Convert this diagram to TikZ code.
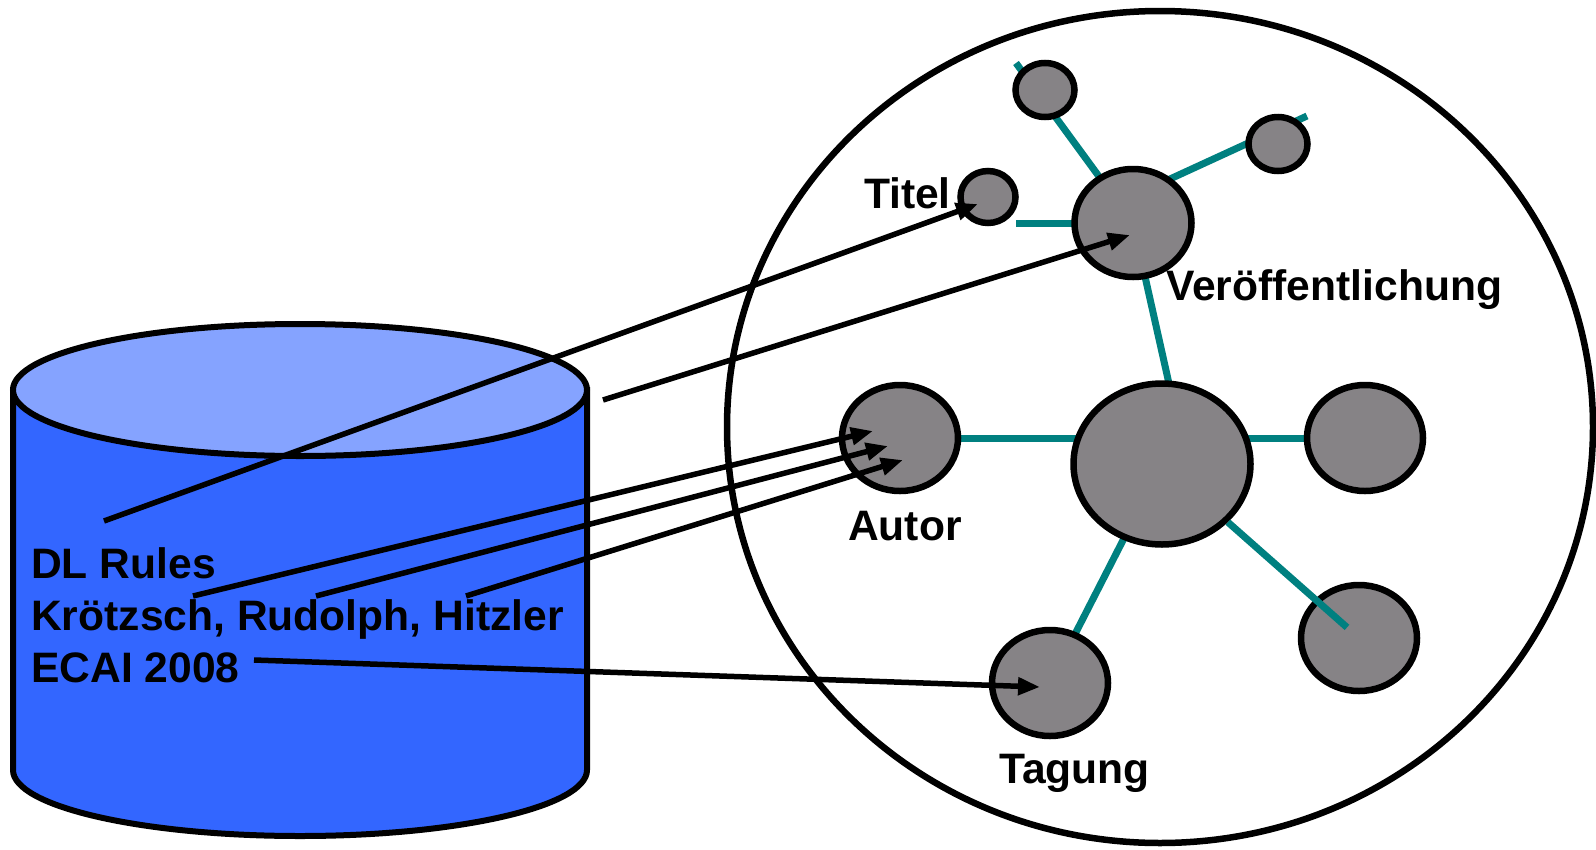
\documentclass[tikz,border=0pt]{standalone}
\usepackage{fontspec}
\setmainfont{Liberation Sans}
\usetikzlibrary{shapes.geometric,arrows.meta,calc,backgrounds}

\definecolor{dbblue}{RGB}{51,102,255}
\definecolor{dbtop}{RGB}{133,163,255}
\definecolor{nodegray}{RGB}{134,131,134}
\definecolor{linkteal}{RGB}{0,128,128}

\tikzset{
  concept/.style={ellipse, draw, line width=6.5pt, fill=nodegray, inner sep=0pt},
  medium/.style={concept, minimum width=116pt, minimum height=106pt},
  link/.style={linkteal, line width=7pt},
  ref/.style={line width=5.5pt, -{Triangle[length=22pt,width=17pt]}},
  lbl/.style={font=\fontsize{42.6}{52}\selectfont\bfseries, inner sep=0pt, anchor=base west},
}

\begin{document}
\begin{tikzpicture}[x=1pt, y=-1pt]
\useasboundingbox (0,0) rectangle (1596,849);

% database
\filldraw[fill=dbblue, line width=6pt] (13,390) -- (13,770)
  arc[start angle=180, end angle=0, x radius=287, y radius=66] -- (587,390) -- cycle;
\filldraw[fill=dbtop, line width=6pt] (300,390) ellipse[x radius=287, y radius=66];

% ontology
\draw[line width=6.5pt] (1160,427) ellipse[x radius=433, y radius=416];

\node[concept, minimum width=55pt, minimum height=52pt] (title) at (988,197) {};
\node[concept, minimum width=59pt, minimum height=54pt] (meta1) at (1045,90) {};
\node[concept, minimum width=59pt, minimum height=54pt] (meta2) at (1278,144) {};
\node[concept, minimum width=117pt, minimum height=108pt] (pub) at (1133,223) {};
\node[concept, minimum width=177pt, minimum height=161pt] (hub) at (1162,464) {};
\node[medium] (author) at (900,438) {};
\node[medium] (other) at (1365,438) {};
\node[medium] (extra) at (1359,638) {};
\node[medium] (conf) at (1050,683) {};

\coordinate (stub1) at (1016,63);
\coordinate (stub2) at (1307,116);
\coordinate (stub3) at (1016,223);

\begin{scope}[on background layer]
\draw[link] (pub.center) -- (stub1);
\draw[link] ($(pub.center)+(0,-27)$) -- (stub2);
\draw[link] (pub.center) -- (stub3);
\draw[link] (pub.center) -- ($(hub.center)+(25,0)$);
\draw[link] (author.center) -- (hub.center |- author.center);
\draw[link] (other.center) -- (hub.center |- other.center);
\draw[link] (hub.center) -- (conf.center);
\end{scope}
\draw[link] (hub) -- ($(extra.center)!16pt!(hub.center)$);

\node[lbl, anchor=base east] (titlelbl) at (951,208) {Titel};
\node[lbl] (publbl) at (1166,300) {Veröffentlichung};
\node[lbl] (authorlbl) at (848,540) {Autor};
\node[lbl] (conflbl) at (999,783) {Tagung};

% record
\node[lbl] (dl) at (31,578) {DL Rules};
\node[lbl] (names) at (31,630) {Krötzsch, Rudolph, Hitzler};
\node[lbl] (venue) at (31,682) {ECAI 2008};

\coordinate (src-title) at (104,521);
\coordinate (src-pub) at (603,400);
\coordinate (src-kr) at (193,596);
\coordinate (src-ru) at (316,596);
\coordinate (src-hi) at (466,596);
\coordinate (src-conf) at (254,660);

\draw[ref] (src-title) -- ($(title.center)+(-10,7)$);
\draw[ref] (src-pub) -- ($(pub.center)+(-3,12)$);
\draw[ref] (src-kr) -- ($(author.center)+(-27,-7)$);
\draw[ref] (src-ru) -- ($(author.center)+(-12,8)$);
\draw[ref] (src-hi) -- ($(author.center)+(3,22)$);
\draw[ref] (src-conf) -- ($(conf.center)+(-10,4)$);
\end{tikzpicture}
\end{document}
